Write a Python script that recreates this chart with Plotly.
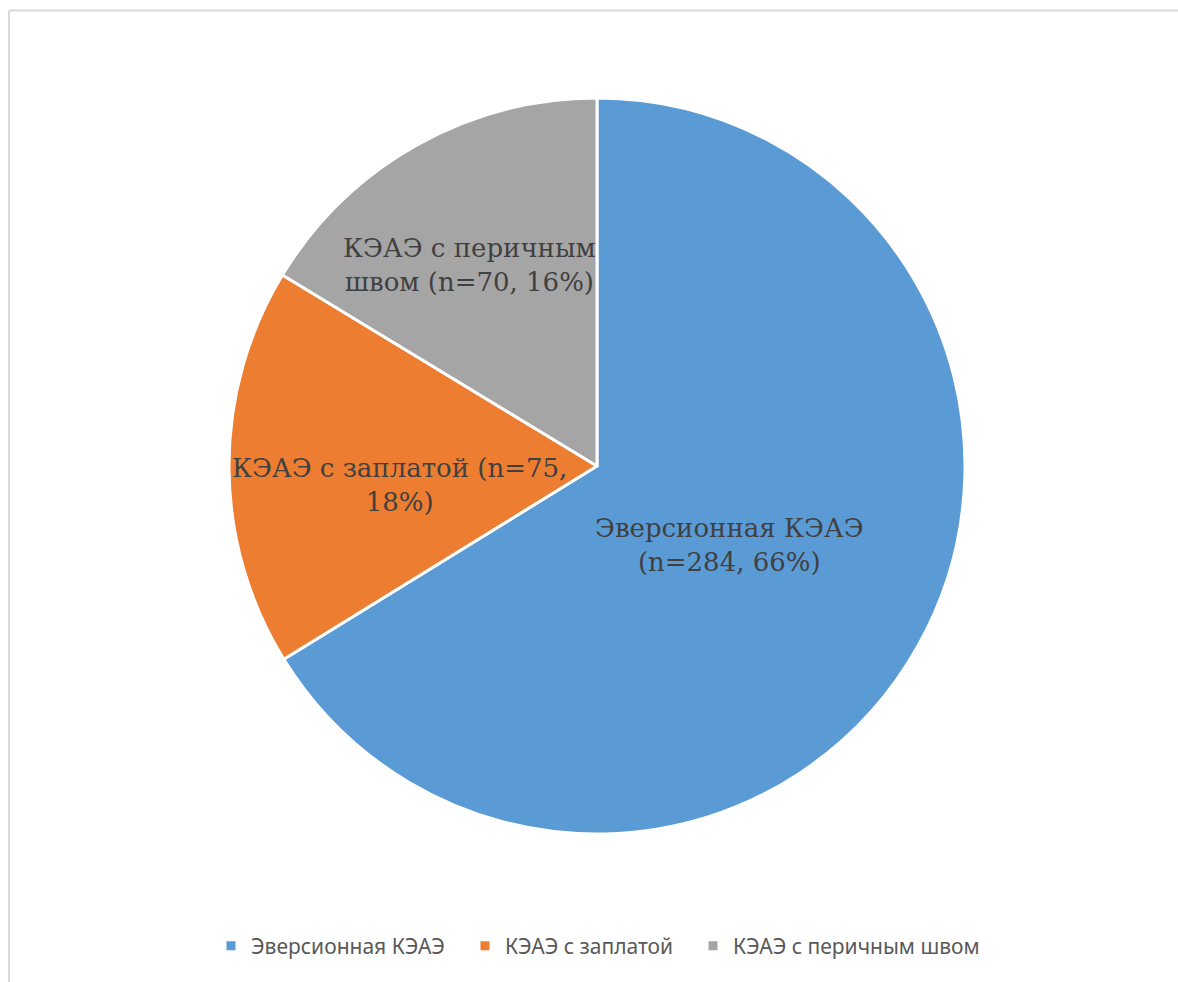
import math
import plotly.graph_objects as go

# Chart data
categories = ["Эверсионная КЭАЭ", "КЭАЭ с заплатой", "КЭАЭ с перичным швом"]
counts = [284, 75, 70]
percent_labels = [66, 18, 16]
colors = ["#5b9bd5", "#ed7d31", "#a5a5a5"]

# Wrapped data-label text per slice
label_templates = [
    "{name}<br>(n={n}, {p}%)",
    "КЭАЭ с заплатой (n={n},<br>{p}%)",
    "КЭАЭ с перичным<br>швом (n={n}, {p}%)",
]

W, H = 1178, 982
CX, CY, R = 597, 466, 368  # pie centre and radius, px

fig = go.Figure()
fig.add_trace(go.Pie(
    labels=categories,
    values=counts,
    sort=False,
    direction="clockwise",
    rotation=0,
    marker=dict(colors=colors, line=dict(color="white", width=3)),
    textinfo="none",
    hoverinfo="label+value+percent",
    showlegend=False,
    domain=dict(x=[(CX - R) / W, (CX + R) / W],
                y=[(H - CY - R) / H, (H - CY + R) / H]),
))

# Legend entries: one legend box per category so each can be spaced freely
legend_names = ["legend", "legend2", "legend3"]
legend_left_px = [211, 465, 693]
for name, color, lg in zip(categories, colors, legend_names):
    fig.add_trace(go.Scatter(
        x=[None], y=[None], mode="markers", name=name,
        marker=dict(symbol="square", size=9, color=color),
        legend=lg, hoverinfo="skip",
    ))

legend_style = dict(
    orientation="h", xanchor="left", y=1 - 946 / H, yanchor="middle",
    font=dict(family="Noto Sans", size=21, color="#595959"),
    bgcolor="rgba(0,0,0,0)", borderwidth=0,
)

# Place each label near its slice's mid-angle (radius fraction, angle nudge in degrees)
label_radius = [0.42, 0.538, 0.647]
label_nudge = [1.5, -5.3, -3.0]
total = sum(counts)
cum = 0
annotations = []
for i, n in enumerate(counts):
    mid = (cum + n / 2) / total * 2 * math.pi + math.radians(label_nudge[i])
    cum += n
    px = CX + label_radius[i] * R * math.sin(mid)
    py = CY - label_radius[i] * R * math.cos(mid)
    annotations.append(dict(
        x=px / W, y=1 - py / H, xref="paper", yref="paper",
        xanchor="center", yanchor="middle",
        text=label_templates[i].format(name=categories[i], n=n, p=percent_labels[i]),
        showarrow=False, align="center",
        font=dict(family="DejaVu Serif", size=26, color="#404040"),
    ))

fig.update_layout(
    width=W, height=H,
    margin=dict(l=0, r=0, t=0, b=0),
    paper_bgcolor="white",
    plot_bgcolor="white",
    xaxis=dict(visible=False),
    yaxis=dict(visible=False),
    annotations=annotations,
    showlegend=True,
    legend=dict(x=legend_left_px[0] / W, **legend_style),
    legend2=dict(x=legend_left_px[1] / W, **legend_style),
    legend3=dict(x=legend_left_px[2] / W, **legend_style),
    shapes=[
        dict(type="line", xref="paper", yref="paper", x0=9 / W, x1=1.0, y0=1 - 10.5 / H, y1=1 - 10.5 / H,
             line=dict(color="#d9d9d9", width=2)),
        dict(type="line", xref="paper", yref="paper", x0=9 / W, x1=9 / W, y0=0, y1=1 - 10.5 / H,
             line=dict(color="#d9d9d9", width=2)),
    ],
)

fig.write_html("out.html")
